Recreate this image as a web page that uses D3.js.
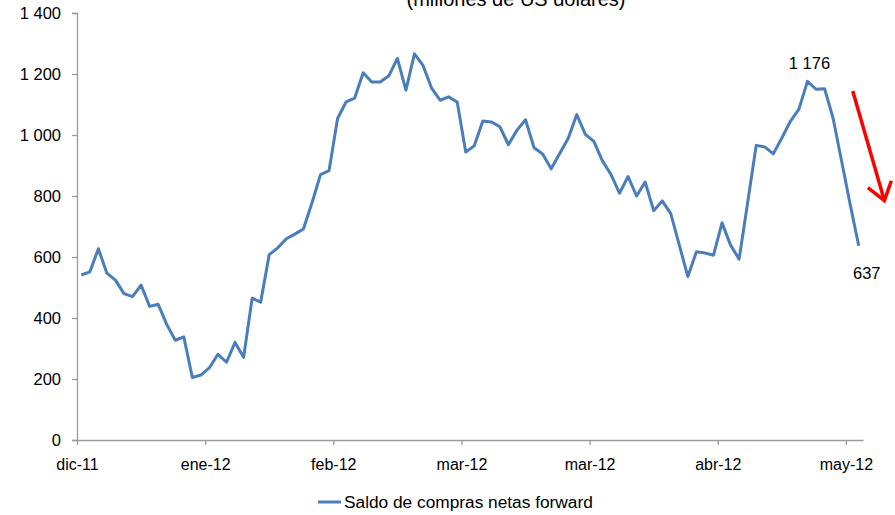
<!DOCTYPE html>
<html>
<head>
<meta charset="utf-8">
<script src="https://cdn.jsdelivr.net/npm/d3@7"></script>
<style>
  html, body { margin: 0; padding: 0; background: #fff; }
  svg { display: block; font-family: "Liberation Sans", Arial, sans-serif; }
</style>
</head>
<body>
<svg id="chart" width="895" height="515"></svg>
<script>
// Net forward purchases balance, millions of US dollars (one value per trading day)
const saldo = [
  541, 551, 627, 547, 524, 480, 470, 508, 438, 445,
  379, 327, 338, 205, 213, 237, 281, 255, 320, 271,
  465, 452, 608, 630, 660, 675, 692, 777, 870, 883,
  1054, 1109, 1121, 1204, 1174, 1174, 1194, 1251, 1147, 1266,
  1228, 1154, 1114, 1125, 1108, 944, 965, 1046, 1043, 1027,
  968, 1016, 1050, 958, 938, 889, 939, 989, 1067, 1002,
  979, 915, 871, 809, 864, 800, 846, 752, 784, 742,
  639, 536, 617, 613, 606, 712, 639, 593, 779, 966,
  961, 938, 990, 1045, 1085, 1176, 1150, 1152, 1055, 914,
  772, 637
];

// Category-axis labels, one every 15 trading days
const xTickLabels = ["dic-11", "ene-12", "feb-12", "mar-12", "mar-12", "abr-12", "may-12"];
const labelEvery = 15;

const yTicks = [0, 200, 400, 600, 800, 1000, 1200, 1400];

const seriesName = "Saldo de compras netas forward";
const title = "(millones de US dólares)";

// Points carrying a value label
const peakIndex = 85;
const lastIndex = saldo.length - 1;

// Trend arrow, in data space: [index, value]
const arrowFrom = [90.3, 1144];
const arrowTo = [94.0, 785];

const svg = d3.select("#chart");
const blue = "#4A7EBB";
const axisGrey = "#9a9a9a";

const plot = { left: 77, right: 863, top: 13, bottom: 440 };

// Each category occupies a band; points sit at band centres
const x = d3.scaleLinear().domain([-0.5, saldo.length - 0.5]).range([plot.left, plot.right]);
const y = d3.scaleLinear().domain([0, 1400]).range([plot.bottom, plot.top]);

const fmt = d3.formatLocale({ decimal: ",", thousands: " ", grouping: [3] }).format(",d");

// Title (sits partly above the top edge of the canvas)
svg.append("text")
  .attr("x", 516).attr("y", 6)
  .attr("text-anchor", "middle")
  .attr("font-size", 20)
  .attr("fill", "#000")
  .text(title);

// Y axis
const yAxis = d3.axisLeft(y).tickValues(yTicks).tickSize(5).tickPadding(11).tickFormat(fmt);
const gy = svg.append("g").attr("transform", `translate(${plot.left},0)`).call(yAxis);
gy.select(".domain").attr("stroke", axisGrey).attr("stroke-width", 1.3);
gy.selectAll(".tick line").attr("stroke", axisGrey).attr("stroke-width", 1.3);
gy.selectAll(".tick text")
  .attr("font-size", 16.5)
  .attr("fill", "#000")
  .attr("font-family", "Liberation Sans, Arial, sans-serif");

// X axis: ticks on the band boundaries every 15 categories
const xTickVals = xTickLabels.map((_, i) => i * labelEvery - 0.5);
const xAxis = d3.axisBottom(x)
  .tickValues(xTickVals)
  .tickSize(5)
  .tickSizeOuter(0)
  .tickPadding(14)
  .tickFormat((d, i) => xTickLabels[i]);
const gx = svg.append("g").attr("transform", `translate(0,${plot.bottom})`).call(xAxis);
gx.select(".domain").attr("stroke", axisGrey).attr("stroke-width", 1.3);
gx.selectAll(".tick line").attr("stroke", axisGrey).attr("stroke-width", 1.3);
gx.selectAll(".tick text")
  .attr("font-size", 16)
  .attr("fill", "#000")
  .attr("font-family", "Liberation Sans, Arial, sans-serif");

// Series line
const line = d3.line().x((d, i) => x(i)).y(d => y(d));
svg.append("path")
  .datum(saldo)
  .attr("fill", "none")
  .attr("stroke", blue)
  .attr("stroke-width", 3)
  .attr("stroke-linejoin", "round")
  .attr("d", line);

// Value labels
svg.append("text")
  .attr("x", x(peakIndex) + 2).attr("y", y(saldo[peakIndex]) - 12)
  .attr("text-anchor", "middle")
  .attr("font-size", 16.5)
  .text(fmt(saldo[peakIndex]));

svg.append("text")
  .attr("x", x(lastIndex) + 8).attr("y", y(saldo[lastIndex]) + 33)
  .attr("text-anchor", "middle")
  .attr("font-size", 16.5)
  .text(fmt(saldo[lastIndex]));

// Red downward trend arrow
const ax0 = x(arrowFrom[0]), ay0 = y(arrowFrom[1]);
const ax1 = x(arrowTo[0]), ay1 = y(arrowTo[1]);
const ang = Math.atan2(ay1 - ay0, ax1 - ax0);
const head = 21, spread = 0.62;
svg.append("line")
  .attr("x1", ax0).attr("y1", ay0).attr("x2", ax1).attr("y2", ay1)
  .attr("stroke", "#ff0000").attr("stroke-width", 3.5);
svg.append("path")
  .attr("fill", "none")
  .attr("stroke", "#ff0000")
  .attr("stroke-width", 3.5)
  .attr("stroke-linejoin", "miter")
  .attr("d", `M${ax1 - head * Math.cos(ang - spread)},${ay1 - head * Math.sin(ang - spread)}
              L${ax1},${ay1}
              L${ax1 - head * Math.cos(ang + spread)},${ay1 - head * Math.sin(ang + spread)}`);

// Legend
const legY = 502;
svg.append("line")
  .attr("x1", 318).attr("x2", 341).attr("y1", legY).attr("y2", legY)
  .attr("stroke", blue).attr("stroke-width", 3);
svg.append("text")
  .attr("x", 344).attr("y", legY + 6)
  .attr("font-size", 17.3)
  .attr("fill", "#000")
  .text(seriesName);
</script>
</body>
</html>
